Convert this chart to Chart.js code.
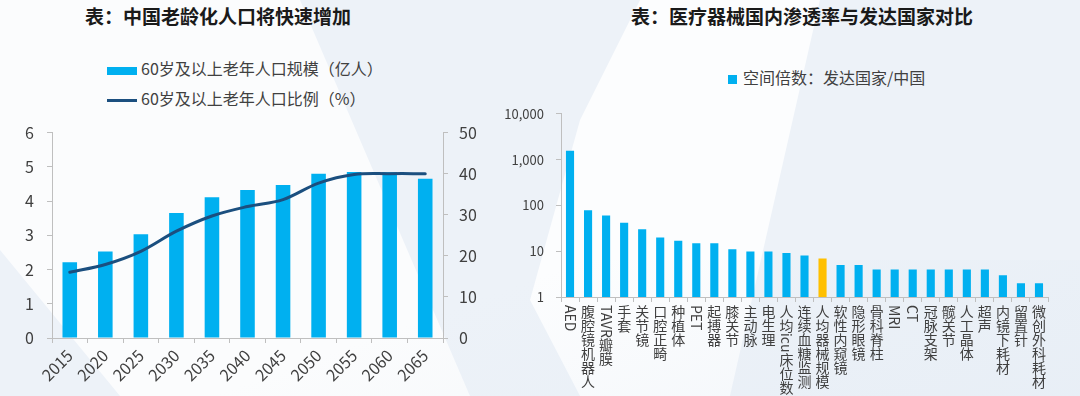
<!DOCTYPE html>
<html lang="zh-CN">
<head>
    <meta charset="UTF-8">
    <title>老龄化与医疗器械渗透率</title>
    <script src="https://cdn.jsdelivr.net/npm/chart.js"></script>
    <style>
        html, body { margin: 0; padding: 0; }
        body {
            width: 1080px; height: 396px; overflow: hidden; position: relative;
            background: #edf2f8;
            font-family: "Noto Sans CJK SC", "Noto Sans", sans-serif;
            color: #404040;
        }
        .bg { position: absolute; background: #ffffff; }
        .bg1 { left: 0; top: 0; width: 560px; height: 396px; opacity: .75;
               clip-path: polygon(0 0, 300px 0, 470px 396px, 120px 396px, 0 250px); }
        .bg2 { left: 520px; top: 0; width: 300px; height: 396px; opacity: .8;
               clip-path: polygon(120px 0, 300px 0, 210px 396px, 60px 396px, 10px 300px, 60px 120px); }
        .bg3 { left: 0; top: 260px; width: 1080px; height: 136px; opacity: .35;
               background: linear-gradient(160deg, rgba(255,255,255,0) 40%, #dfe8f2 100%); }
        .title { position: absolute; top: 2px; font-size: 19px; font-weight: bold; color: #1a1a1a;
                 white-space: nowrap; transform: translateX(-50%); }
        .legend { position: absolute; font-size: 16px; white-space: nowrap; line-height: 20px; }
        .sw { display: inline-block; vertical-align: middle; margin-right: 4px; }
        canvas { position: absolute; }
    </style>
</head>
<body>
    <div class="bg bg1"></div>
    <div class="bg bg2"></div>
    <div class="bg bg3"></div>

    <div class="title" style="left:218px">表：中国老龄化人口将快速增加</div>
    <div class="title" style="left:802px">表：医疗器械国内渗透率与发达国家对比</div>

    <div class="legend" style="left:107px; top:58px"><span class="sw" id="swBar" style="width:30px;height:8px"></span><span id="lgBar"></span></div>
    <div class="legend" style="left:107px; top:88px"><span class="sw" id="swLine" style="width:30px;height:3px"></span><span id="lgLine"></span></div>
    <div class="legend" style="left:728px; top:67px"><span class="sw" id="swRight" style="width:9px;height:9px;margin-right:6px"></span><span id="lgRight"></span></div>

    <canvas id="ageChart" width="490" height="286" style="left:0; top:110px"></canvas>
    <canvas id="deviceChart" width="560" height="302" style="left:500px; top:94px"></canvas>

    <script>
        // 左图：老龄化人口
        const years = ['2015', '2020', '2025', '2030', '2035', '2040', '2045', '2050', '2055', '2060', '2065'];
        const elderlyPop = [2.21, 2.53, 3.03, 3.65, 4.11, 4.32, 4.47, 4.80, 4.85, 4.84, 4.65];
        const elderlyRatio = [16.0, 17.9, 21.1, 26.0, 29.7, 32.0, 33.7, 37.7, 39.8, 40.0, 40.0];
        const popTicks = [0, 1, 2, 3, 4, 5, 6];
        const ratioTicks = [0, 10, 20, 30, 40, 50];
        const popLabel = '60岁及以上老年人口规模（亿人）';
        const ratioLabel = '60岁及以上老年人口比例（%）';

        // 右图：空间倍数
        const devices = ['AED', '腹腔镜机器人', 'TAVR瓣膜', '手套', '关节镜', '口腔正畸', '种植体', 'PET', '起搏器',
            '膝关节', '主动脉', '电生理', '人均icu床位数', '连续血糖监测', '人均器械规模', '软性内窥镜', '隐形眼镜',
            '骨科脊柱', 'MRI', 'CT', '冠脉支架', '髋关节', '人工晶体', '超声', '内镜下耗材', '留置针', '微创外科耗材'];
        const spaceMultiple = [1570, 78, 60, 42, 30, 20, 17, 15, 15, 11, 9.9, 9.9, 9.1, 8.1, 6.9, 5, 5,
            4, 4, 4, 4, 4, 4, 4, 3, 2, 2];
        const logTicks = [1, 10, 100, 1000, 10000];
        const deviceLabel = '空间倍数：发达国家/中国';
        const highlight = '人均器械规模';

        const BLUE = '#00b0f0';
        const NAVY = '#1b4f7f';
        const YELLOW = '#ffc000';
        const AXIS = '#bfbfbf';
        const TEXT = '#404040';
        const FONT = '"Noto Sans CJK SC", "Noto Sans", sans-serif';

        // HTML 图例
        document.getElementById('swBar').style.background = BLUE;
        document.getElementById('swLine').style.background = NAVY;
        document.getElementById('swRight').style.background = BLUE;
        document.getElementById('lgBar').textContent = popLabel;
        document.getElementById('lgLine').textContent = ratioLabel;
        document.getElementById('lgRight').textContent = deviceLabel;

        Chart.defaults.font.family = FONT;
        Chart.defaults.color = TEXT;
        Chart.defaults.animation = false;

        function axisGrid(offset) {
            return { display: true, drawOnChartArea: false, offset: offset, tickLength: 5, color: AXIS, lineWidth: 1 };
        }

        new Chart(document.getElementById('ageChart'), {
            type: 'bar',
            data: {
                labels: years,
                datasets: [{
                    type: 'line',
                    label: ratioLabel,
                    data: elderlyRatio,
                    yAxisID: 'y1',
                    borderColor: NAVY,
                    borderWidth: 3,
                    tension: 0.35,
                    pointRadius: 0,
                    borderCapStyle: 'round',
                    order: 0
                }, {
                    label: popLabel,
                    data: elderlyPop,
                    yAxisID: 'y',
                    backgroundColor: BLUE,
                    barPercentage: 0.41,
                    categoryPercentage: 1,
                    order: 1
                }]
            },
            options: {
                responsive: false,
                devicePixelRatio: 1,
                layout: { padding: { top: 10, left: 0, right: 0, bottom: 0 } },
                plugins: { legend: { display: false }, title: { display: false }, tooltip: { enabled: false } },
                scales: {
                    x: {
                        offset: true,
                        grid: axisGrid(true),
                        border: { color: AXIS },
                        ticks: { minRotation: 45, maxRotation: 45, padding: 3, font: { size: 16 }, color: TEXT },
                        afterFit: s => { s.height = 58; }
                    },
                    y: {
                        position: 'left', min: 0, max: 6,
                        grid: axisGrid(false),
                        border: { color: AXIS },
                        afterBuildTicks: s => { s.ticks = popTicks.map(v => ({ value: v })); },
                        ticks: { padding: 13, font: { size: 16 }, color: TEXT },
                        afterFit: s => { s.width = 52; }
                    },
                    y1: {
                        position: 'right', min: 0, max: 50,
                        grid: axisGrid(false),
                        border: { color: AXIS },
                        afterBuildTicks: s => { s.ticks = ratioTicks.map(v => ({ value: v })); },
                        ticks: { padding: 11, font: { size: 16 }, color: TEXT },
                        afterFit: s => { s.width = 47; }
                    }
                }
            }
        });

        // 竖排类别标签：汉字直立，英文顺时针旋转
        const verticalLabels = {
            id: 'verticalLabels',
            afterDraw(chart) {
                const xs = chart.scales.x;
                const ctx = chart.ctx;
                const size = 14;
                ctx.save();
                ctx.font = size + 'px ' + FONT;
                ctx.fillStyle = TEXT;
                chart.data.labels.forEach((label, i) => {
                    const x = xs.getPixelForTick(i);
                    let y = xs.top + 8;
                    const parts = label.match(/[A-Za-z0-9]+|./g);
                    parts.forEach(p => {
                        if (/^[A-Za-z0-9]+$/.test(p)) {
                            const w = ctx.measureText(p).width;
                            ctx.save();
                            ctx.translate(x, y);
                            ctx.rotate(Math.PI / 2);
                            ctx.textAlign = 'left';
                            ctx.textBaseline = 'middle';
                            ctx.fillText(p, 0, 0);
                            ctx.restore();
                            y += w;
                        } else {
                            ctx.textAlign = 'center';
                            ctx.textBaseline = 'top';
                            ctx.fillText(p, x, y);
                            y += size;
                        }
                    });
                });
                ctx.restore();
            }
        };

        new Chart(document.getElementById('deviceChart'), {
            type: 'bar',
            data: {
                labels: devices,
                datasets: [{
                    label: deviceLabel,
                    data: spaceMultiple,
                    backgroundColor: devices.map(d => d === highlight ? YELLOW : BLUE),
                    barPercentage: 0.45,
                    categoryPercentage: 1
                }]
            },
            options: {
                responsive: false,
                devicePixelRatio: 1,
                layout: { padding: { top: 8, left: 0, right: 12, bottom: 0 } },
                plugins: { legend: { display: false }, title: { display: false }, tooltip: { enabled: false } },
                scales: {
                    x: {
                        offset: true,
                        grid: axisGrid(true),
                        border: { color: AXIS },
                        ticks: { display: false },
                        afterFit: s => { s.height = 99; }
                    },
                    y: {
                        type: 'logarithmic', min: 1, max: 10000,
                        grid: axisGrid(false),
                        border: { color: AXIS },
                        afterBuildTicks: s => { s.ticks = logTicks.map(v => ({ value: v })); },
                        ticks: {
                            padding: 12, font: { size: 13 }, color: TEXT,
                            callback: v => Number(v).toLocaleString('en-US')
                        },
                        afterFit: s => { s.width = 61; }
                    }
                }
            },
            plugins: [verticalLabels]
        });
    </script>
</body>
</html>
